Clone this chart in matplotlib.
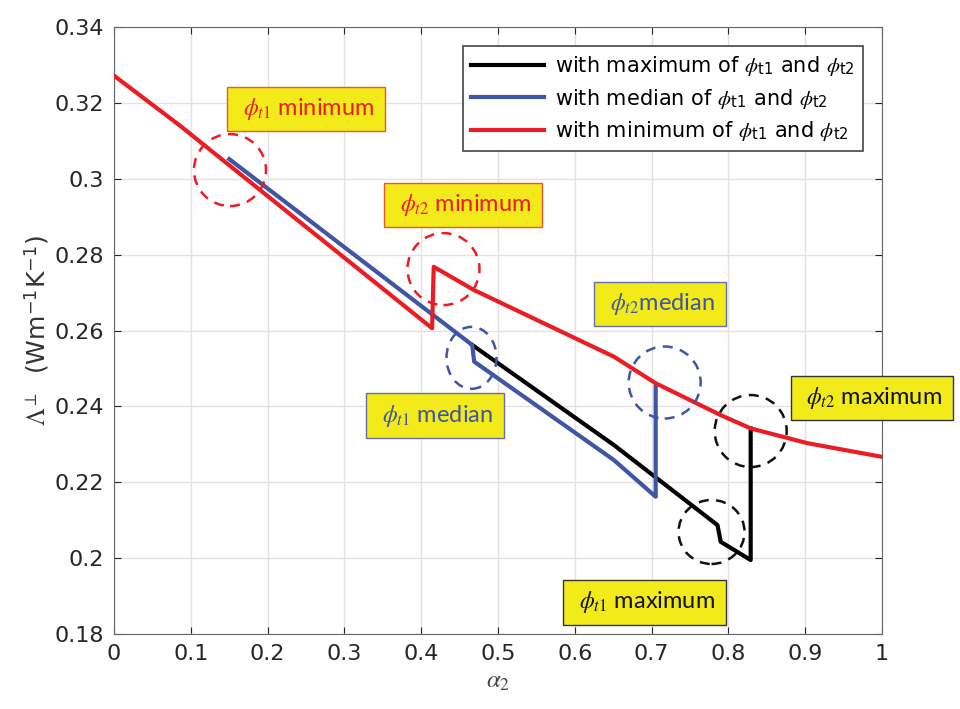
import matplotlib.pyplot as plt
from matplotlib.patches import Ellipse

x_red = [0.0, 0.086, 0.4142, 0.4163, 0.4685, 0.651, 0.7053, 0.790, 0.829, 0.903, 1.0]
y_red = [0.3272, 0.3140, 0.2606, 0.2768, 0.2707, 0.2531, 0.2461, 0.2377, 0.2342, 0.2303, 0.2267]

x_blue = [0.15, 0.4664, 0.469, 0.6506, 0.7053, 0.7053]
y_blue = [0.3052, 0.2562, 0.2518, 0.2259, 0.2162, 0.2452]

x_black = [0.4664, 0.651, 0.7858, 0.790, 0.829, 0.829]
y_black = [0.2562, 0.2298, 0.2087, 0.2043, 0.1995, 0.2342]

labels = [r'with maximum of $\phi_{\mathsf{t1}}$ and $\phi_{\mathsf{t2}}$',
          r'with median of $\phi_{\mathsf{t1}}$ and $\phi_{\mathsf{t2}}$',
          r'with minimum of $\phi_{\mathsf{t1}}$ and $\phi_{\mathsf{t2}}$']

# dashed circles (centre x, centre y, colour)
circ_x = [0.151, 0.429, 0.4655, 0.717, 0.829, 0.778]
circ_y = [0.3023, 0.2762, 0.2528, 0.2463, 0.2335, 0.2069]
circ_c = ['red', 'red', 'blue', 'blue', 'black', 'black']

# annotation boxes
note_text = [r'$\phi_{t1}$ minimum', r'$\phi_{t2}$ minimum', r'$\phi_{t2}$median',
             r'$\phi_{t1}$ median', r'$\phi_{t2}$ maximum', r'$\phi_{t1}$ maximum']
note_x = [0.250, 0.4544, 0.711, 0.418, 0.987, 0.691]
note_y = [0.3184, 0.2931, 0.2670, 0.2375, 0.2422, 0.1884]
note_c = ['red', 'red', 'blue', 'blue', 'black', 'black']

RED = '#ec1c24'
BLUE = '#3f55a5'
cmap = {'red': (RED, '#f0562a'), 'blue': (BLUE, '#6670a8'), 'black': ('#111111', '#333333')}

plt.rcParams['mathtext.fontset'] = 'custom'
plt.rcParams['mathtext.it'] = 'STIXGeneral:italic'
plt.rcParams['mathtext.rm'] = 'STIXGeneral'
plt.rcParams['mathtext.sf'] = 'DejaVu Sans'
fig = plt.figure(figsize=(9.6, 7.09), dpi=100)
ax = fig.add_axes([0.11875, 0.1058, 0.8, 0.856])

ax.plot(x_black, y_black, color='black', lw=3, label=labels[0], zorder=3)
ax.plot(x_blue, y_blue, color=BLUE, lw=3, label=labels[1], zorder=3)
ax.plot(x_red, y_red, color=RED, lw=3, label=labels[2], zorder=4)

# circle sizes in pixels converted to data units
for cx, cy, c in zip(circ_x, circ_y, circ_c):
    w = 72 / 768.0
    h = 72 / 3794.0
    if c == 'blue' and cx < 0.5:
        w = 50 / 768.0
        h = 62 / 3794.0
    if c == 'black' and cy < 0.22:
        w = 66 / 768.0
        h = 64 / 3794.0
    e = Ellipse((cx, cy), w, h, fill=False, edgecolor=cmap[c][0], lw=1.8,
                linestyle=(0, (4, 3)), zorder=5)
    ax.add_patch(e)

for t, tx, ty, c in zip(note_text, note_x, note_y, note_c):
    ax.text(tx, ty, ' ' + t + ' ', color=cmap[c][0], fontsize=17, family=['Lato', 'DejaVu Sans'],
            ha='center', va='center', zorder=6, clip_on=False,
            bbox=dict(boxstyle='square,pad=0.4', facecolor='#f2ea19',
                      edgecolor=cmap[c][1], lw=1))

ax.set_xlim(0, 1)
ax.set_ylim(0.18, 0.34)
ax.set_xticks([i / 10 for i in range(11)])
ax.set_xticklabels(['0', '0.1', '0.2', '0.3', '0.4', '0.5', '0.6', '0.7', '0.8', '0.9', '1'])
ax.set_yticks([0.18, 0.2, 0.22, 0.24, 0.26, 0.28, 0.3, 0.32, 0.34])
ax.set_yticklabels(['0.18', '0.2', '0.22', '0.24', '0.26', '0.28', '0.3', '0.32', '0.34'])
ax.tick_params(direction='in', top=True, right=True, length=5, labelsize=16,
               colors='#262626', pad=7)
ax.grid(True, color='#e6e0e4', lw=1)
ax.set_axisbelow(True)
for s in ax.spines.values():
    s.set_color('#666666')

ax.set_xlabel(r'$\alpha_2$', fontsize=18, color='#444444', labelpad=4)
ax.set_ylabel(r'$\Lambda^{\perp}$  (Wm$^{\mathsf{-1}}$K$^{\mathsf{-1}}$)', fontsize=18,
              color='#333333', labelpad=2)

leg = ax.legend(loc='upper right', bbox_to_anchor=(0.975, 0.969), fontsize=15,
                handlelength=3.5, frameon=True, fancybox=False, framealpha=1,
                borderpad=0.4, labelspacing=0.4, handletextpad=0.5, borderaxespad=0)
leg.get_frame().set_edgecolor('#444444')
leg.get_frame().set_linewidth(1.2)

fig.savefig('out.png', dpi=100)
